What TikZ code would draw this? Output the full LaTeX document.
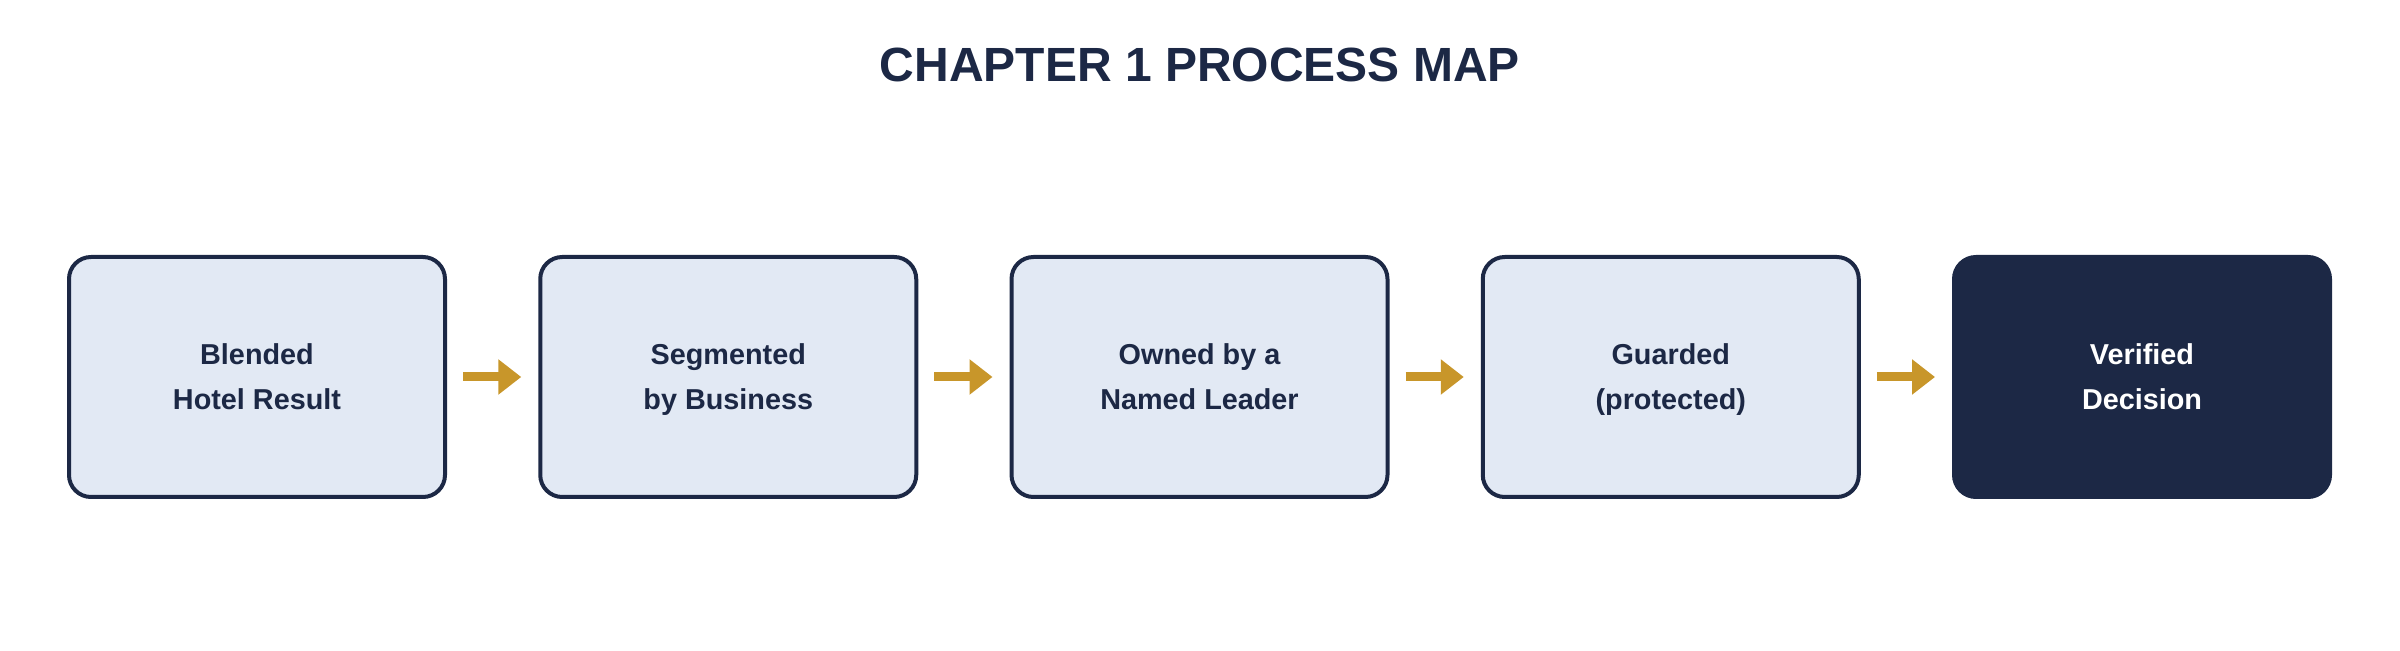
\documentclass[tikz,border=0pt]{standalone}
\usepackage{fontspec}
\setmainfont{Liberation Sans}
\usepackage{tikz}
\usetikzlibrary{arrows.meta,positioning}
\definecolor{navy}{HTML}{1C2845}
\definecolor{paleblue}{HTML}{E2E9F4}
\definecolor{gold}{HTML}{C8962A}

\tikzset{
  stagebox/.style={draw=navy, line width=1pt, fill=paleblue, rounded corners=5.5pt,
    minimum width=94pt, minimum height=60pt, inner sep=0pt, outer sep=0pt,
    align=center, text=navy, text height=16.5pt, text depth=0pt,
    font=\bfseries\fontsize{7.2}{11.25}\selectfont},
  finalbox/.style={stagebox, fill=navy, text=white},
  flowarrow/.style={draw=gold, line width=2.25pt, -{Triangle[length=5.75pt,width=8.5pt]},
    shorten <=4.5pt, shorten >=4.75pt}
}

\begin{document}
\begin{tikzpicture}[x=0.25pt,y=-0.25pt]
  \useasboundingbox (0,0) rectangle (2400,651);

  % Title
  \node[anchor=base, text=navy, font=\bfseries\fontsize{12}{14}\selectfont] (title) at (1200,82) {CHAPTER 1 PROCESS MAP};

  % Stages (one row, centres 471.25 apart)
  \node[stagebox] (S1) at (257,377)    {Blended\\Hotel Result};
  \node[stagebox] (S2) at (728.25,377) {Segmented\\by Business};
  \node[stagebox] (S3) at (1199.5,377) {Owned by a\\Named Leader};
  \node[stagebox] (S4) at (1670.75,377) {Guarded\\(protected)};
  \node[finalbox] (S5) at (2142,377)   {Verified\\Decision};

  % Arrows between stages
  \draw[flowarrow] (S1) -- (S2);
  \draw[flowarrow] (S2) -- (S3);
  \draw[flowarrow] (S3) -- (S4);
  \draw[flowarrow] (S4) -- (S5);
\end{tikzpicture}
\end{document}
